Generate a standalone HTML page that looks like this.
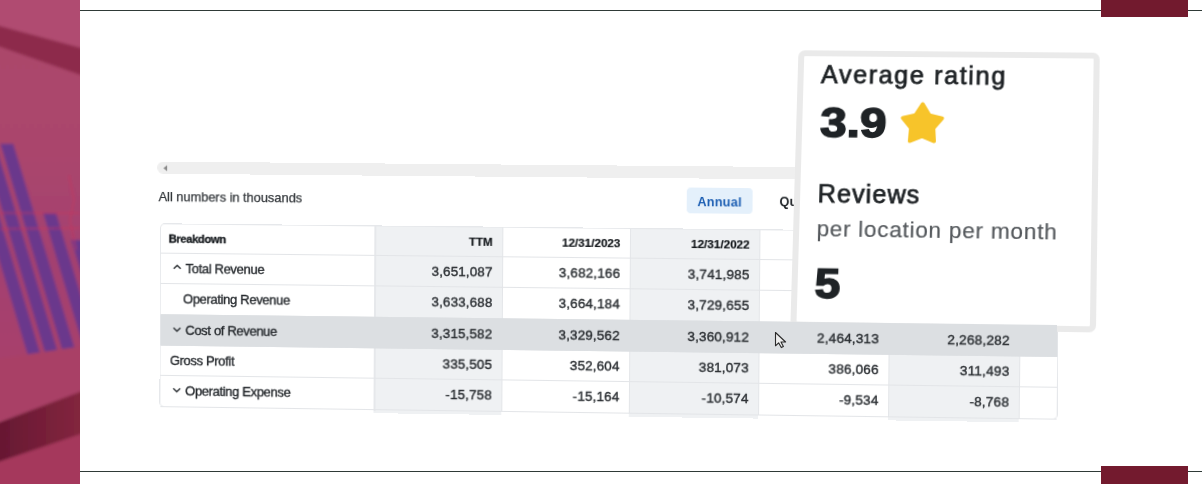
<!DOCTYPE html>
<html><head><meta charset="utf-8"><style>
html,body{margin:0;padding:0;}
body{width:1202px;height:484px;position:relative;overflow:hidden;background:#fff;font-family:"Liberation Sans", sans-serif;}
.t{position:absolute;white-space:nowrap;line-height:1;font-family:"Liberation Sans", sans-serif;}
.plane{position:absolute;left:0;top:0;width:891px;height:180px;transform-origin:0 0;}
</style></head><body>
<svg width="80" height="484" viewBox="0 0 80 484" style="position:absolute;left:0;top:0">
<defs><filter id="bl" x="-20%" y="-20%" width="140%" height="140%"><feGaussianBlur stdDeviation="1.6"/></filter>
<linearGradient id="mg" x1="0" y1="0" x2="0" y2="1"><stop offset="0" stop-color="#ab466b"/><stop offset="0.3" stop-color="#aa456c"/><stop offset="0.6" stop-color="#a34170"/><stop offset="1" stop-color="#a9416a"/></linearGradient><linearGradient id="bg2" x1="0" y1="0" x2="1" y2="0"><stop offset="0" stop-color="#631631"/><stop offset="1" stop-color="#86273f"/></linearGradient><clipPath id="cp"><rect width="80" height="484"/></clipPath></defs>
<g clip-path="url(#cp)">
<rect x="-10" y="-10" width="100" height="504" fill="#ab456a"/>
<g filter="url(#bl)">
<polygon points="-10,-10 90,-10 90,50.3 -10,23.3" fill="#b04b71"/>
<polygon points="-10,23.3 90,50.3 90,78.5 -10,43.5" fill="#8d2a4c"/>
<polygon points="-10,43.5 90,78.5 90,380 -10,400" fill="url(#mg)"/>
<g fill="#653890" opacity="0.9"><polygon points="-48.8,100 -35.8,100 44.0,366 31.0,366"/><polygon points="-27.8,110 -14.8,110 59.6,358 46.6,358"/><polygon points="0.3,143.7 13.3,143.7 75.2,350 62.2,350"/><polygon points="43.1,213 56.1,213 95.4,344 82.4,344"/><polygon points="71.2,240 84.2,240 114.2,340 101.2,340"/></g>
<g stroke="#cf3158" stroke-width="1" fill="none" opacity="0.8">
<path d="M0 213 L80 213"/><path d="M0 229 L80 228"/>
<path d="M69 175 L74 200 L70 220 L76 250"/>
</g>
<polygon points="-10,360 90,345 90,390 -10,425" fill="#a94166"/>
<polygon points="-10,426 90,388 90,431 -10,465" fill="url(#bg2)"/>
<polygon points="-10,465 90,431 90,494 -10,494" fill="#a5385b"/>
</g></g>
</svg>
<div style="position:absolute;left:80px;top:9.7px;width:1122px;height:1.4px;background:#2f3a37"></div>
<div style="position:absolute;left:80px;top:470.7px;width:1122px;height:1.4px;background:#2f3a37"></div>
<div style="position:absolute;left:1101px;top:0;width:87px;height:17px;background:#721a2e"></div>
<div style="position:absolute;left:1101px;top:466px;width:87px;height:18px;background:#731a2e"></div>
<div class="plane" style="transform:matrix3d(0.984330595,0.00505716586,0,-2.1561412e-05,-0.00233048289,1.01297202,0,7.0775409e-06,0,0,1,0,161.034139,224.305543,0,1)">
<div style="position:absolute;left:-4px;top:-62.5px;width:720px;height:12.5px;background:#efefef;border-radius:6px"></div>
<svg style="position:absolute;left:1px;top:-59.5px" width="6" height="7" viewBox="0 0 6 7"><path d="M5 0.5 L1.2 3.5 L5 6.5 Z" fill="#8a8a8a"/></svg>
<div class="t" style="left:-2.5px;top:-34.40px;font-size:13px;font-weight:400;color:#33373b;letter-spacing:-0.05px;-webkit-text-stroke:0.25px #33373b;">All numbers in thousands</div>
<div style="position:absolute;left:526px;top:-41.4px;width:65.4px;height:25.6px;background:#e4f0fb;border-radius:4px"></div>
<div class="t" style="left:536.5px;top:-33.47px;font-size:12.6px;font-weight:700;color:#1d5fb3;letter-spacing:0.2px;">Annual</div>
<div class="t" style="left:617.6px;top:-33.87px;font-size:12.6px;font-weight:700;color:#23272b;letter-spacing:0.1px;">Quarterly</div>
<div style="position:absolute;left:0;top:0;width:891px;height:180px;background:#fff;border-radius:4px;box-shadow:0 0 0 1px #e6e8eb"></div>
<div style="position:absolute;left:215.2px;top:0;width:127.80000000000001px;height:184px;background:#eff1f3"></div>
<div style="position:absolute;left:470px;top:0;width:128px;height:184px;background:#eff1f3"></div>
<div style="position:absolute;left:726px;top:0;width:128px;height:184px;background:#eff1f3"></div>
<div style="position:absolute;left:215.2px;top:0;width:1px;height:180px;background:#e4e6e9"></div>
<div style="position:absolute;left:343px;top:0;width:1px;height:180px;background:#e4e6e9"></div>
<div style="position:absolute;left:470px;top:0;width:1px;height:180px;background:#e4e6e9"></div>
<div style="position:absolute;left:598px;top:0;width:1px;height:180px;background:#e4e6e9"></div>
<div style="position:absolute;left:726px;top:0;width:1px;height:180px;background:#e4e6e9"></div>
<div style="position:absolute;left:854px;top:0;width:1px;height:180px;background:#e4e6e9"></div>
<div style="position:absolute;left:215.2px;top:0;width:1.6px;height:182px;background:#e6e8eb"></div>
<div style="position:absolute;left:0;top:27.5px;width:891px;height:1px;background:#e3e5e8"></div>
<div style="position:absolute;left:0;top:57.5px;width:891px;height:1px;background:#e3e5e8"></div>
<div style="position:absolute;left:0;top:88.5px;width:891px;height:1px;background:#e3e5e8"></div>
<div style="position:absolute;left:0;top:119.0px;width:891px;height:1px;background:#e3e5e8"></div>
<div style="position:absolute;left:0;top:149.0px;width:891px;height:1px;background:#e3e5e8"></div>
<div style="position:absolute;left:0;top:179.5px;width:891px;height:1px;background:#e3e5e8"></div>
<div class="t" style="left:7.8px;top:8.65px;font-size:11.4px;font-weight:700;color:#15191d;letter-spacing:-0.42px;-webkit-text-stroke:0.3px #15191d;">Breakdown</div>
<div class="t" style="right:557.5px;top:7.68px;font-size:11.6px;font-weight:700;color:#15191d;letter-spacing:0px;-webkit-text-stroke:0.2px #15191d;">TTM</div>
<div class="t" style="right:430.5px;top:7.68px;font-size:11.6px;font-weight:700;color:#15191d;letter-spacing:0px;-webkit-text-stroke:0.2px #15191d;">12/31/2023</div>
<div class="t" style="right:302.5px;top:7.68px;font-size:11.6px;font-weight:700;color:#15191d;letter-spacing:0px;-webkit-text-stroke:0.2px #15191d;">12/31/2022</div>
<div class="t" style="right:174.5px;top:7.68px;font-size:11.6px;font-weight:700;color:#15191d;letter-spacing:0px;-webkit-text-stroke:0.2px #15191d;">12/31/2021</div>
<div class="t" style="right:46.5px;top:7.68px;font-size:11.6px;font-weight:700;color:#15191d;letter-spacing:0px;-webkit-text-stroke:0.2px #15191d;">12/31/2020</div>
<div style="position:absolute;left:0;top:89px;width:891px;height:30.5px;background:#dcdfe2"></div>
<svg style="position:absolute;left:11.8px;top:39.4px" width="9" height="6" viewBox="0 0 9 6"><path d="M1 4.7 L4.5 1.5 L8 4.7" fill="none" stroke="#2b2f33" stroke-width="1.4"/></svg>
<div class="t" style="left:25px;top:36.83px;font-size:13.2px;font-weight:400;color:#262a2e;letter-spacing:-0.38px;-webkit-text-stroke:0.35px #262a2e;">Total Revenue</div>
<div class="t" style="right:557.5px;top:36.66px;font-size:13.4px;font-weight:400;color:#2e3236;letter-spacing:0.15px;-webkit-text-stroke:0.4px #2e3236;">3,651,087</div>
<div class="t" style="right:430.5px;top:36.66px;font-size:13.4px;font-weight:400;color:#2e3236;letter-spacing:0.15px;-webkit-text-stroke:0.4px #2e3236;">3,682,166</div>
<div class="t" style="right:302.5px;top:36.66px;font-size:13.4px;font-weight:400;color:#2e3236;letter-spacing:0.15px;-webkit-text-stroke:0.4px #2e3236;">3,741,985</div>
<div class="t" style="left:22.5px;top:66.83px;font-size:13.2px;font-weight:400;color:#262a2e;letter-spacing:-0.38px;-webkit-text-stroke:0.35px #262a2e;">Operating Revenue</div>
<div class="t" style="right:557.5px;top:66.66px;font-size:13.4px;font-weight:400;color:#2e3236;letter-spacing:0.15px;-webkit-text-stroke:0.4px #2e3236;">3,633,688</div>
<div class="t" style="right:430.5px;top:66.66px;font-size:13.4px;font-weight:400;color:#2e3236;letter-spacing:0.15px;-webkit-text-stroke:0.4px #2e3236;">3,664,184</div>
<div class="t" style="right:302.5px;top:66.66px;font-size:13.4px;font-weight:400;color:#2e3236;letter-spacing:0.15px;-webkit-text-stroke:0.4px #2e3236;">3,729,655</div>
<svg style="position:absolute;left:11.8px;top:100.8px" width="9" height="6" viewBox="0 0 9 6"><path d="M1 1.3 L4.5 4.5 L8 1.3" fill="none" stroke="#2b2f33" stroke-width="1.4"/></svg>
<div class="t" style="left:25px;top:97.83px;font-size:13.2px;font-weight:400;color:#262a2e;letter-spacing:-0.38px;-webkit-text-stroke:0.35px #262a2e;">Cost of Revenue</div>
<div class="t" style="right:557.5px;top:97.66px;font-size:13.4px;font-weight:400;color:#2e3236;letter-spacing:0.15px;-webkit-text-stroke:0.4px #2e3236;">3,315,582</div>
<div class="t" style="right:430.5px;top:97.66px;font-size:13.4px;font-weight:400;color:#2e3236;letter-spacing:0.15px;-webkit-text-stroke:0.4px #2e3236;">3,329,562</div>
<div class="t" style="right:302.5px;top:97.66px;font-size:13.4px;font-weight:400;color:#2e3236;letter-spacing:0.15px;-webkit-text-stroke:0.4px #2e3236;">3,360,912</div>
<div class="t" style="right:174.5px;top:97.66px;font-size:13.4px;font-weight:400;color:#2e3236;letter-spacing:0.15px;-webkit-text-stroke:0.4px #2e3236;">2,464,313</div>
<div class="t" style="right:46.5px;top:97.66px;font-size:13.4px;font-weight:400;color:#2e3236;letter-spacing:0.15px;-webkit-text-stroke:0.4px #2e3236;">2,268,282</div>
<div class="t" style="left:9.4px;top:127.83px;font-size:13.2px;font-weight:400;color:#262a2e;letter-spacing:-0.38px;-webkit-text-stroke:0.35px #262a2e;">Gross Profit</div>
<div class="t" style="right:557.5px;top:127.66px;font-size:13.4px;font-weight:400;color:#2e3236;letter-spacing:0.15px;-webkit-text-stroke:0.4px #2e3236;">335,505</div>
<div class="t" style="right:430.5px;top:127.66px;font-size:13.4px;font-weight:400;color:#2e3236;letter-spacing:0.15px;-webkit-text-stroke:0.4px #2e3236;">352,604</div>
<div class="t" style="right:302.5px;top:127.66px;font-size:13.4px;font-weight:400;color:#2e3236;letter-spacing:0.15px;-webkit-text-stroke:0.4px #2e3236;">381,073</div>
<div class="t" style="right:174.5px;top:127.66px;font-size:13.4px;font-weight:400;color:#2e3236;letter-spacing:0.15px;-webkit-text-stroke:0.4px #2e3236;">386,066</div>
<div class="t" style="right:46.5px;top:127.66px;font-size:13.4px;font-weight:400;color:#2e3236;letter-spacing:0.15px;-webkit-text-stroke:0.4px #2e3236;">311,493</div>
<svg style="position:absolute;left:11.8px;top:161.10000000000002px" width="9" height="6" viewBox="0 0 9 6"><path d="M1 1.3 L4.5 4.5 L8 1.3" fill="none" stroke="#2b2f33" stroke-width="1.4"/></svg>
<div class="t" style="left:25px;top:158.13px;font-size:13.2px;font-weight:400;color:#262a2e;letter-spacing:-0.38px;-webkit-text-stroke:0.35px #262a2e;">Operating Expense</div>
<div class="t" style="right:557.5px;top:157.96px;font-size:13.4px;font-weight:400;color:#2e3236;letter-spacing:0.15px;-webkit-text-stroke:0.4px #2e3236;">-15,758</div>
<div class="t" style="right:430.5px;top:157.96px;font-size:13.4px;font-weight:400;color:#2e3236;letter-spacing:0.15px;-webkit-text-stroke:0.4px #2e3236;">-15,164</div>
<div class="t" style="right:302.5px;top:157.96px;font-size:13.4px;font-weight:400;color:#2e3236;letter-spacing:0.15px;-webkit-text-stroke:0.4px #2e3236;">-10,574</div>
<div class="t" style="right:174.5px;top:157.96px;font-size:13.4px;font-weight:400;color:#2e3236;letter-spacing:0.15px;-webkit-text-stroke:0.4px #2e3236;">-9,534</div>
<div class="t" style="right:46.5px;top:157.96px;font-size:13.4px;font-weight:400;color:#2e3236;letter-spacing:0.15px;-webkit-text-stroke:0.4px #2e3236;">-8,768</div>
</div>
<div class="plane" style="width:302px;height:277px;transform:matrix3d(0.9690366197846462,0.0065792263343347444,0,-2.9251018171763426e-05,-0.06919269778510768,0.9812424330945195,0,-5.053584062787365e-05,0,0,1,0,798.4509564090844,50.17872184518637,0,1)">
<div style="position:absolute;left:0;top:0;width:289px;height:265.5px;border:6.5px solid #eaeaea;border-radius:7px;background:#fff"></div>
<div class="t" style="left:23.5px;top:12.27px;font-size:25.2px;font-weight:400;color:#1f2326;letter-spacing:1.6px;-webkit-text-stroke:0.75px #1f2326;">Average rating</div>
<div class="t" style="left:23.5px;top:52.37px;font-size:41.5px;font-weight:700;color:#1f2326;letter-spacing:0px;-webkit-text-stroke:1.6px #1f2326;transform:scaleX(1.15);transform-origin:0 0;">3.9</div>
<svg style="position:absolute;left:102.5px;top:51px" width="46" height="46" viewBox="0 0 46 46"><path d="M23.00,2.30 L29.99,13.37 L42.69,16.60 L34.32,26.68 L35.17,39.75 L23.00,34.90 L10.83,39.75 L11.68,26.68 L3.31,16.60 L16.01,13.37 Z" fill="#f7c42a" stroke="#f7c42a" stroke-width="3.6" stroke-linejoin="round"/></svg>
<div class="t" style="left:23.5px;top:132.27px;font-size:25.2px;font-weight:400;color:#1f2326;letter-spacing:1.0px;-webkit-text-stroke:0.75px #1f2326;">Reviews</div>
<div class="t" style="left:23.4px;top:169.04px;font-size:22.4px;font-weight:400;color:#55595d;letter-spacing:0.72px;-webkit-text-stroke:0.2px #55595d;">per location per month</div>
<div class="t" style="left:23px;top:212.67px;font-size:41.5px;font-weight:700;color:#1f2326;letter-spacing:0px;-webkit-text-stroke:1.6px #1f2326;transform:scaleX(1.1);transform-origin:0 0;">5</div>
</div>
<div class="plane" style="transform:matrix3d(0.984330595,0.00505716586,0,-2.1561412e-05,-0.00233048289,1.01297202,0,7.0775409e-06,0,0,1,0,161.034139,224.305543,0,1)">
<div style="position:absolute;left:0;top:89px;width:891px;height:30.5px;background:#dcdfe2"></div>
<svg style="position:absolute;left:11.8px;top:100.8px" width="9" height="6" viewBox="0 0 9 6"><path d="M1 1.3 L4.5 4.5 L8 1.3" fill="none" stroke="#2b2f33" stroke-width="1.4"/></svg>
<div class="t" style="left:25px;top:97.83px;font-size:13.2px;font-weight:400;color:#262a2e;letter-spacing:-0.38px;-webkit-text-stroke:0.35px #262a2e;">Cost of Revenue</div>
<div class="t" style="right:557.5px;top:97.66px;font-size:13.4px;font-weight:400;color:#2e3236;letter-spacing:0.15px;-webkit-text-stroke:0.4px #2e3236;">3,315,582</div>
<div class="t" style="right:430.5px;top:97.66px;font-size:13.4px;font-weight:400;color:#2e3236;letter-spacing:0.15px;-webkit-text-stroke:0.4px #2e3236;">3,329,562</div>
<div class="t" style="right:302.5px;top:97.66px;font-size:13.4px;font-weight:400;color:#2e3236;letter-spacing:0.15px;-webkit-text-stroke:0.4px #2e3236;">3,360,912</div>
<div class="t" style="right:174.5px;top:97.66px;font-size:13.4px;font-weight:400;color:#2e3236;letter-spacing:0.15px;-webkit-text-stroke:0.4px #2e3236;">2,464,313</div>
<div class="t" style="right:46.5px;top:97.66px;font-size:13.4px;font-weight:400;color:#2e3236;letter-spacing:0.15px;-webkit-text-stroke:0.4px #2e3236;">2,268,282</div>
</div>
<svg style="position:absolute;left:773px;top:331px" width="16" height="19" viewBox="0 0 16 19"><path d="M2.5 1.5 L2.5 14.8 L5.6 11.8 L8.3 16.6 L10.4 15.6 L8 11 L12.6 11 Z" fill="#eeeeee" stroke="#2a2a2a" stroke-width="1.1" stroke-linejoin="round"/></svg>
</body></html>
